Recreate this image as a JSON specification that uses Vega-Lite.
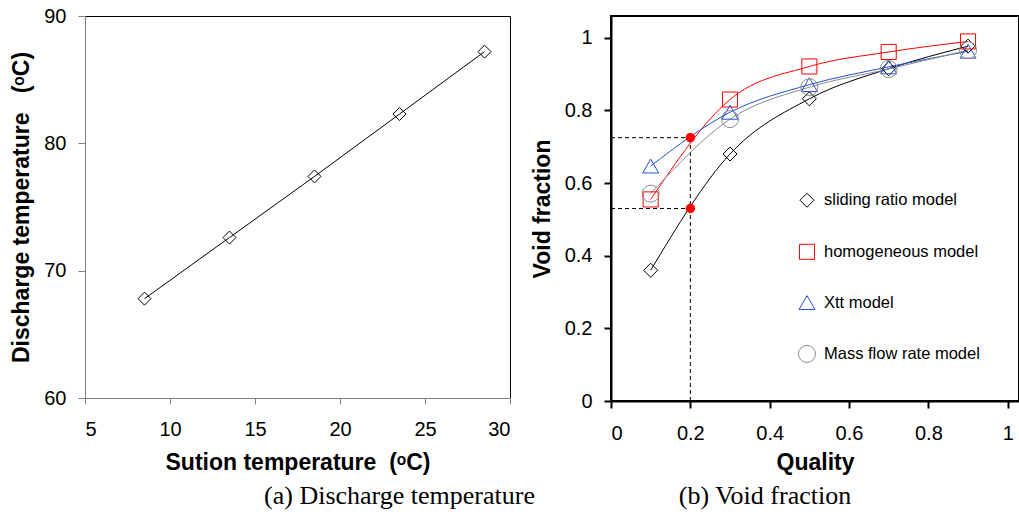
{
  "$schema": "https://vega.github.io/schema/vega-lite/v6.json",
  "background": "white",
  "padding": {"left": 10, "top": 5, "right": 0, "bottom": 5},
  "config": {
    "font": "Liberation Sans",
    "axis": {"labelFont": "Liberation Sans", "titleFont": "Liberation Sans", "grid": false, "labelColor": "black", "titleColor": "black", "labelFontSize": 20, "titleFontSize": 23, "titleFontWeight": "bold"},
    "title": {"font": "Liberation Serif", "fontSize": 26, "fontWeight": "normal", "color": "black"},
    "legend": {
      "orient": "none", "legendX": 187, "legendY": 176, "title": null, "padding": 0,
      "labelFont": "Liberation Sans", "labelFontSize": 16.5, "labelColor": "black", "labelOffset": 8, "labelLimit": 300,
      "rowPadding": 31.3, "symbolSize": 400
    }
  },
  "datasets": {
    "left": [
      {"t": 8.5, "d": 67.8}, {"t": 13.5, "d": 72.6}, {"t": 18.5, "d": 77.4}, {"t": 23.5, "d": 82.3}, {"t": 28.5, "d": 87.2}
    ],
    "right": [
      {"model": "sliding ratio model", "q": 0.1, "v": 0.36},
      {"model": "sliding ratio model", "q": 0.3, "v": 0.68},
      {"model": "sliding ratio model", "q": 0.5, "v": 0.832},
      {"model": "sliding ratio model", "q": 0.7, "v": 0.915},
      {"model": "sliding ratio model", "q": 0.9, "v": 0.977},
      {"model": "homogeneous model", "q": 0.1, "v": 0.555},
      {"model": "homogeneous model", "q": 0.3, "v": 0.83},
      {"model": "homogeneous model", "q": 0.5, "v": 0.921},
      {"model": "homogeneous model", "q": 0.7, "v": 0.961},
      {"model": "homogeneous model", "q": 0.9, "v": 0.99},
      {"model": "Xtt model", "q": 0.1, "v": 0.647},
      {"model": "Xtt model", "q": 0.3, "v": 0.795},
      {"model": "Xtt model", "q": 0.5, "v": 0.871},
      {"model": "Xtt model", "q": 0.7, "v": 0.92},
      {"model": "Xtt model", "q": 0.9, "v": 0.963},
      {"model": "Mass flow rate model", "q": 0.1, "v": 0.571},
      {"model": "Mass flow rate model", "q": 0.3, "v": 0.776},
      {"model": "Mass flow rate model", "q": 0.5, "v": 0.864},
      {"model": "Mass flow rate model", "q": 0.7, "v": 0.914},
      {"model": "Mass flow rate model", "q": 0.9, "v": 0.966}
    ],
    "rules": [
      {"x": 0, "x2": 0.2, "y": 0.725, "y2": 0.725},
      {"x": 0, "x2": 0.2, "y": 0.53, "y2": 0.53},
      {"x": 0.2, "x2": 0.2, "y": 0, "y2": 0.725}
    ],
    "dots": [
      {"q": 0.2, "v": 0.725},
      {"q": 0.2, "v": 0.53}
    ]
  },
  "bounds": "flush",
  "spacing": 101,
  "resolve": {"scale": {"color": "independent", "shape": "independent", "size": "independent"}, "legend": {"color": "independent", "shape": "independent", "size": "independent"}},
  "hconcat": [
    {
      "width": 425,
      "height": 382,
      "view": {"stroke": "black", "strokeWidth": 1},
      "title": {"text": "(a) Discharge temperature", "orient": "bottom", "anchor": "middle", "dx": 102, "offset": 9},
      "data": {"name": "left"},
      "encoding": {
        "x": {"field": "t", "type": "quantitative", "scale": {"domain": [5, 30], "nice": false},
          "axis": {"values": [5, 10, 15, 20, 25, 30], "title": "Sution temperature\u00a0\u00a0(ᵒC)", "domainColor": "#808080", "tickColor": "#808080", "tickSize": 6, "labelPadding": 15, "titlePadding": 12}},
        "y": {"field": "d", "type": "quantitative", "scale": {"domain": [60, 90], "nice": false, "zero": false},
          "axis": {"values": [60, 70, 80, 90], "title": "Discharge temperature\u00a0\u00a0\u00a0(ᵒC)", "domainColor": "#808080", "tickColor": "#808080", "tickSize": 7, "labelPadding": 12, "titlePadding": 10}}
      },
      "layer": [
        {"mark": {"type": "line", "color": "black", "strokeWidth": 1}},
        {"mark": {"type": "point", "shape": "diamond", "size": 169, "filled": false, "color": "black", "strokeWidth": 1, "opacity": 1}}
      ]
    },
    {
      "width": 408,
      "height": 385,
      "view": {"stroke": "black", "strokeWidth": 2},
      "title": {"text": "(b) Void fraction", "orient": "bottom", "anchor": "middle", "dx": -50, "offset": 9},
      "layer": [
        {
          "data": {"name": "rules"},
          "mark": {"type": "rule", "color": "black", "strokeWidth": 1, "strokeDash": [4, 3]},
          "encoding": {
            "x": {"field": "x", "type": "quantitative", "scale": {"domain": [0, 1.0285], "nice": false},
              "axis": {"values": [0, 0.2, 0.4, 0.6, 0.8, 1], "format": "~g", "title": "Quality", "domainColor": "black", "domainWidth": 2, "tickColor": "black", "tickWidth": 2, "tickSize": 7, "labelPadding": 15, "titlePadding": 8}},
            "x2": {"field": "x2"},
            "y": {"field": "y", "type": "quantitative", "scale": {"domain": [0, 1.06], "nice": false},
              "axis": {"values": [0, 0.2, 0.4, 0.6, 0.8, 1], "format": "~g", "title": "Void fraction", "domainColor": "black", "domainWidth": 2, "tickColor": "black", "tickWidth": 2, "tickSize": 7, "labelPadding": 12, "titlePadding": 10}},
            "y2": {"field": "y2"}
          }
        },
        {
          "data": {"name": "right"},
          "mark": {"type": "line", "interpolate": "monotone", "strokeWidth": 1},
          "encoding": {
            "x": {"field": "q", "type": "quantitative"},
            "y": {"field": "v", "type": "quantitative"},
            "color": {"field": "model", "type": "nominal",
              "scale": {"domain": ["sliding ratio model", "homogeneous model", "Xtt model", "Mass flow rate model"], "range": ["#000000", "#FF0000", "#2450D8", "#8C8C8C"]},
              "legend": {
                "encode": {
                  "symbols": {
                    "update": {
                      "fill": {"value": "transparent"},
                      "strokeWidth": {"value": 1},
                      "opacity": {"value": 1}
                    }
                  }
                }
              }}
          }
        },
        {
          "data": {"name": "right"},
          "mark": {"type": "point", "filled": false, "strokeWidth": 1, "opacity": 1},
          "encoding": {
            "x": {"field": "q", "type": "quantitative"},
            "y": {"field": "v", "type": "quantitative"},
            "shape": {"field": "model", "type": "nominal",
              "scale": {"domain": ["sliding ratio model", "homogeneous model", "Xtt model", "Mass flow rate model"], "range": ["diamond", "square", "triangle-up", "circle"]},
              "legend": null},
            "size": {"field": "model", "type": "nominal",
              "scale": {"domain": ["sliding ratio model", "homogeneous model", "Xtt model", "Mass flow rate model"], "range": [196, 289, 289, 256]},
              "legend": null},
            "color": {"field": "model", "type": "nominal",
              "scale": {"domain": ["sliding ratio model", "homogeneous model", "Xtt model", "Mass flow rate model"], "range": ["#000000", "#FF0000", "#2450D8", "#8C8C8C"]},
              "legend": {
                "encode": {
                  "symbols": {
                    "update": {
                      "fill": {"value": "transparent"},
                      "strokeWidth": {"value": 1},
                      "opacity": {"value": 1}
                    }
                  }
                }
              }}
          }
        },
        {
          "data": {"name": "dots"},
          "mark": {"type": "point", "filled": true, "shape": "circle", "size": 90, "color": "#FF0000", "opacity": 1},
          "encoding": {
            "x": {"field": "q", "type": "quantitative"},
            "y": {"field": "v", "type": "quantitative"}
          }
        }
      ]
    }
  ]
}
